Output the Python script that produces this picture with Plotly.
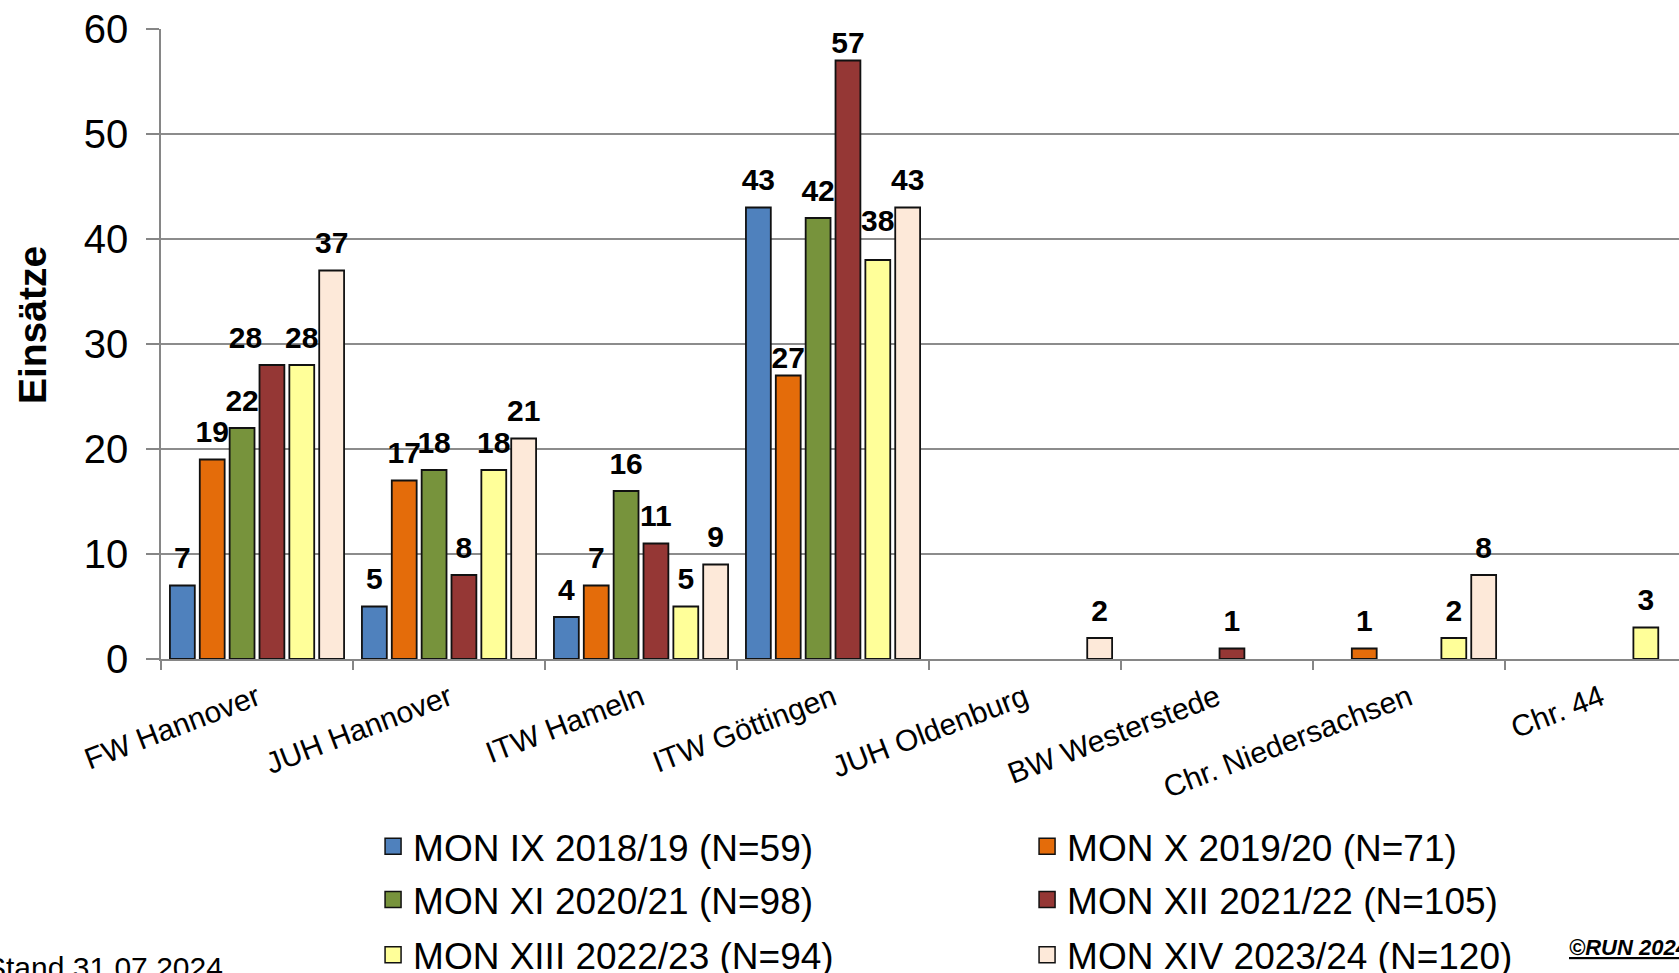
import plotly.graph_objects as go

# ---------------- data ----------------
categories = ["FW Hannover", "JUH Hannover", "ITW Hameln", "ITW Göttingen",
              "JUH Oldenburg", "BW Westerstede", "Chr. Niedersachsen", "Chr. 44"]

series_names = ["MON IX 2018/19 (N=59)", "MON X 2019/20 (N=71)",
                "MON XI 2020/21 (N=98)", "MON XII 2021/22 (N=105)",
                "MON XIII 2022/23 (N=94)", "MON XIV 2023/24 (N=120)"]

mon_ix = [7, 5, 4, 43, 0, 0, 0, 0]
mon_x = [19, 17, 7, 27, 0, 0, 1, 0]
mon_xi = [22, 18, 16, 42, 0, 0, 0, 0]
mon_xii = [28, 8, 11, 57, 0, 1, 0, 0]
mon_xiii = [28, 18, 5, 38, 0, 0, 2, 3]
mon_xiv = [37, 21, 9, 43, 2, 0, 8, 0]

series_values = [mon_ix, mon_x, mon_xi, mon_xii, mon_xiii, mon_xiv]
colors = ["#4F81BD", "#E46C0A", "#77933C", "#953735", "#FFFF99", "#FDE9D9"]
legend_rows = ["legend", "legend", "legend2", "legend2", "legend3", "legend3"]

y_ticks = [0, 10, 20, 30, 40, 50, 60]
y_title = "Einsätze"
footer_left = "Stand 31.07.2024"
footer_right = "©RUN 2024"

# label placement style (series index, category index) -> tweak
LABEL_GAP = 14
label_gap_overrides = {(3, 3): 0, (1, 3): 0, (4, 3): 33}
label_pos_overrides = {(3, 0): "top left"}

FONT = "Arial, 'Liberation Sans', sans-serif"
AXIS_GREY = "#868686"

# ---------------- figure ----------------
fig = go.Figure()

for i, (name, vals, col) in enumerate(zip(series_names, series_values, colors)):
    yv = [v if v else None for v in vals]
    gaps = [label_gap_overrides.get((i, j), LABEL_GAP) for j in range(len(vals))]
    poss = [label_pos_overrides.get((i, j), "top center") for j in range(len(vals))]
    fig.add_trace(go.Bar(
        x=categories, y=yv, name=name, offsetgroup=str(i),
        marker=dict(color=col, line=dict(color="#111111", width=1.8)),
        showlegend=False, hoverinfo="skip"))
    fig.add_trace(go.Scatter(
        x=categories, y=yv, offsetgroup=str(i), mode="markers+text",
        text=[str(v) if v else "" for v in vals], textposition=poss,
        textfont=dict(family=FONT, size=30, color="black", weight="bold"),
        marker=dict(size=gaps, opacity=0), showlegend=False,
        hoverinfo="skip", cliponaxis=False))
    # legend entry
    fig.add_trace(go.Scatter(
        x=[None], y=[None], mode="markers", name=name, legend=legend_rows[i],
        marker=dict(symbol="square", size=20, color=col,
                    line=dict(color="#111111", width=1.5)),
        xaxis="x2", yaxis="y2", hoverinfo="skip"))

legend_common = dict(orientation="h", xanchor="left", yanchor="middle",
                     x=0.1397, entrywidth=609, entrywidthmode="pixels",
                     font=dict(family=FONT, size=37, color="black"),
                     bgcolor="rgba(0,0,0,0)", itemclick=False)

fig.update_layout(
    width=1679, height=973,
    margin=dict(l=161, r=0, t=29, b=314, autoexpand=False),
    paper_bgcolor="white", plot_bgcolor="white",
    font=dict(family=FONT, color="black"),
    barmode="group", bargap=0.067, bargroupgap=0.167,
    scattermode="group", scattergap=0.067,
    xaxis=dict(type="category", categoryorder="array", categoryarray=categories,
               range=[-0.5, 7.406], showline=True, linecolor=AXIS_GREY, linewidth=1.5,
               ticks="outside", tickson="boundaries", ticklen=9, tickcolor=AXIS_GREY,
               tickwidth=1.5, tickangle=-21, tickfont=dict(family=FONT, size=30),
               ticklabelstandoff=8,
               showgrid=False, zeroline=False),
    yaxis=dict(range=[0, 60], tickvals=y_ticks, showline=True, linecolor=AXIS_GREY,
               linewidth=1.5, ticks="outside", ticklen=13, tickcolor=AXIS_GREY,
               tickwidth=1.5, tickfont=dict(family=FONT, size=40),
               ticklabelstandoff=10,
               showgrid=True, gridcolor="#8c8c8c", gridwidth=1.5, zeroline=False),
    xaxis2=dict(overlaying="x", visible=False),
    yaxis2=dict(overlaying="y", visible=False),
    legend=dict(legend_common, y=-0.298),
    legend2=dict(legend_common, y=-0.3825),
    legend3=dict(legend_common, y=-0.470),
    annotations=[
        dict(text="<b>" + y_title + "</b>", textangle=-90, xref="paper", yref="paper",
             x=-0.085, y=0.53, xanchor="center", yanchor="middle", showarrow=False,
             font=dict(family=FONT, size=39, color="black")),
        dict(text=footer_left, xref="paper", yref="paper", x=-0.1166, y=-0.489,
             xanchor="left", yanchor="middle", showarrow=False,
             font=dict(family=FONT, size=30, color="black")),
        dict(text="<b><i><u>" + footer_right + "</u></i></b>", xref="paper", yref="paper",
             x=0.926, y=-0.458, xanchor="left", yanchor="middle", showarrow=False,
             font=dict(family=FONT, size=22, color="black")),
    ],
    showlegend=True,
)

fig.write_html("out.html", config={"displayModeBar": False},
               post_script="document.body.style.margin='0';"
                           "document.body.style.overflow='hidden';")
